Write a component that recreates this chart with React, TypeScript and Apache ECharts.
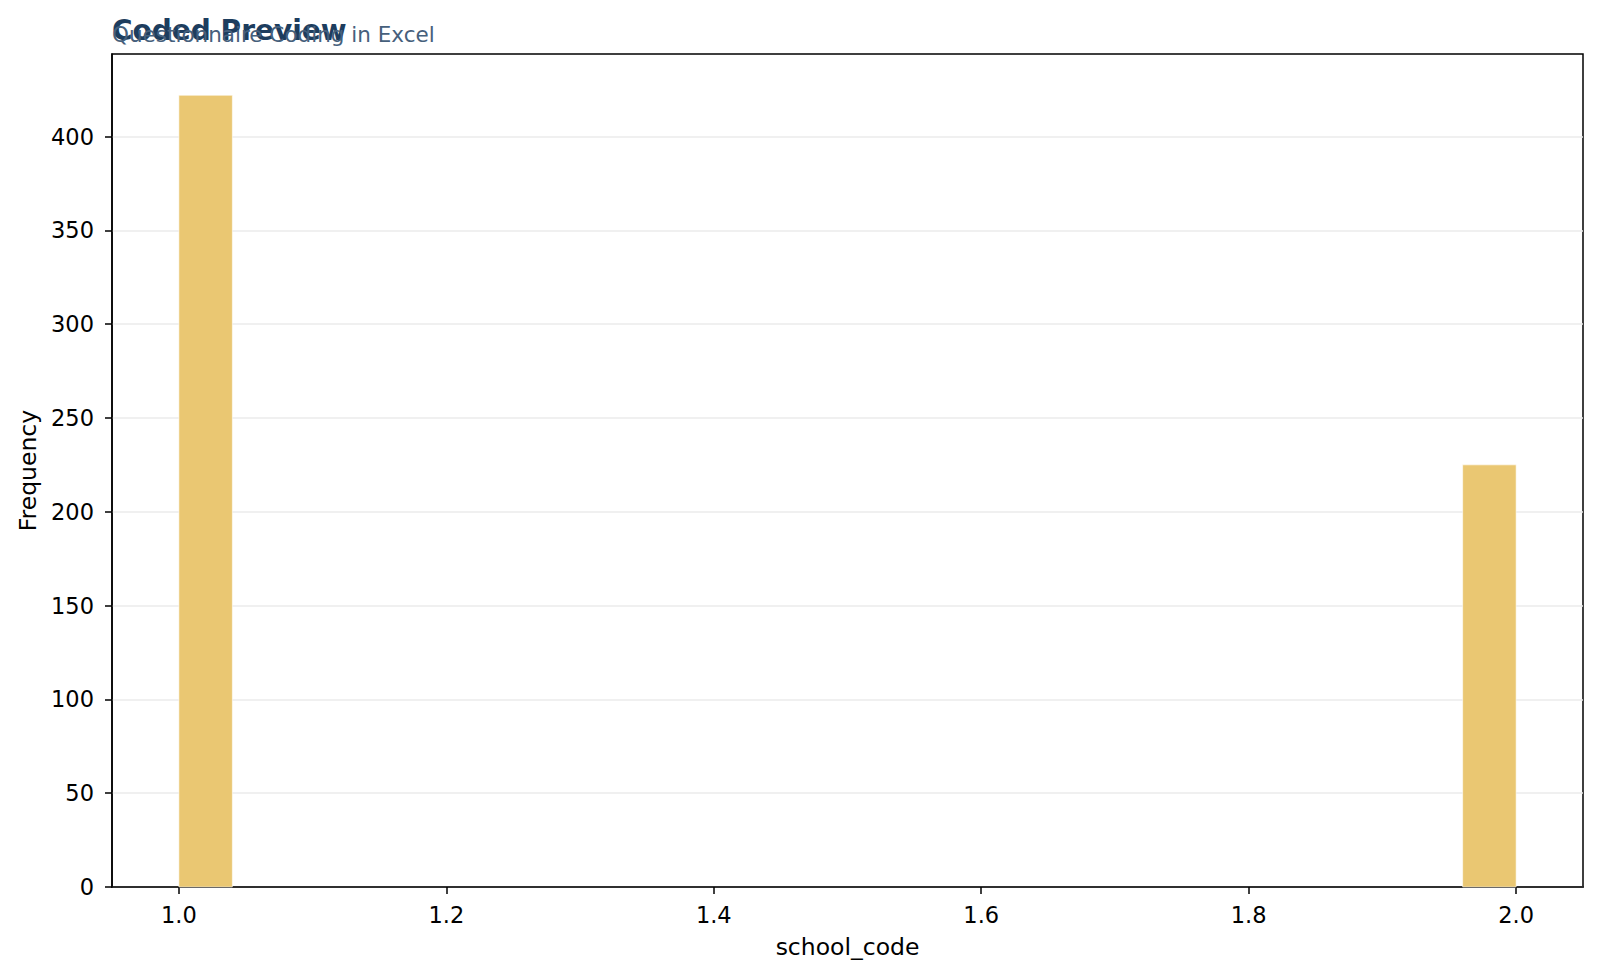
import React, { useEffect, useRef } from "react";
import * as echarts from "echarts";

const binStarts = [1.0, 1.96];
const binEnds = [1.04, 2.0];
const counts = [422, 225];
const xTicks = [1.0, 1.2, 1.4, 1.6, 1.8, 2.0];
const yTicks = [0, 50, 100, 150, 200, 250, 300, 350, 400];
const titleText = "Coded Preview";
const subtitleText = "Questionnaire Coding in Excel";
const xName = "school_code";
const yName = "Frequency";

const FONT = "DejaVu Sans";

export default function App() {
  const ref = useRef<HTMLDivElement>(null);
  useEffect(() => {
    document.body.style.margin = "0";
    const chart = echarts.init(ref.current!, null, { renderer: "svg" });
    const data = binStarts.map((s, i) => [s, binEnds[i], counts[i]]);
    chart.setOption({
      animation: false,
      backgroundColor: "#ffffff",
      title: [
        {
          text: titleText,
          left: 112,
          top: 16,
          padding: 0,
          textStyle: { fontFamily: FONT, fontSize: 28, fontWeight: "bold", color: "#1d3d5e" },
        },
        {
          text: subtitleText,
          left: 112,
          top: 23,
          padding: 0,
          textStyle: { fontFamily: FONT, fontSize: 21.5, fontWeight: "normal", color: "#46607c" },
        },
      ],
      grid: {
        left: 112,
        right: 17,
        top: 54,
        bottom: 91,
        show: true,
        borderColor: "#000",
        borderWidth: 1.5,
        backgroundColor: "transparent",
      },
      xAxis: {
        type: "value",
        min: 0.95,
        max: 2.05,
        name: xName,
        nameLocation: "middle",
        nameGap: 48,
        nameTextStyle: { fontFamily: FONT, fontSize: 23.5, color: "#000" },
        axisLine: { show: true, lineStyle: { color: "#000", width: 1.5 } },
        axisTick: {
          show: true,
          length: 7,
          customValues: xTicks,
          lineStyle: { color: "#000", width: 1.5 },
        },
        axisLabel: {
          customValues: xTicks,
          margin: 16,
          fontFamily: FONT,
          fontSize: 22.5,
          color: "#000",
          formatter: (v: number) => v.toFixed(1),
        },
        splitLine: { show: false },
      },
      yAxis: {
        type: "value",
        min: 0,
        max: 444,
        interval: 50,
        name: yName,
        nameLocation: "middle",
        nameGap: 72,
        nameTextStyle: { fontFamily: FONT, fontSize: 23.5, color: "#000" },
        axisLine: { show: true, lineStyle: { color: "#000", width: 1.5 } },
        axisTick: {
          show: true,
          length: 7,
          customValues: yTicks,
          lineStyle: { color: "#000", width: 1.5 },
        },
        axisLabel: {
          customValues: yTicks,
          margin: 18,
          fontFamily: FONT,
          fontSize: 22.5,
          color: "#000",
        },
        splitLine: { show: true, lineStyle: { color: "#ebebeb", width: 1.5 } },
      },
      series: [
        {
          type: "custom",
          encode: { x: [0, 1], y: 2 },
          data,
          renderItem: (params: any, api: any) => {
            const tl = api.coord([api.value(0), api.value(2)]);
            const br = api.coord([api.value(1), 0]);
            return {
              type: "rect",
              shape: { x: tl[0], y: tl[1], width: br[0] - tl[0], height: br[1] - tl[1] },
              style: { fill: "#E9C46A", opacity: 0.95, stroke: "#fff", lineWidth: 0.6 },
            };
          },
        },
      ],
    });
    return () => chart.dispose();
  }, []);
  return <div ref={ref} style={{ width: 1600, height: 978 }} />;
}
